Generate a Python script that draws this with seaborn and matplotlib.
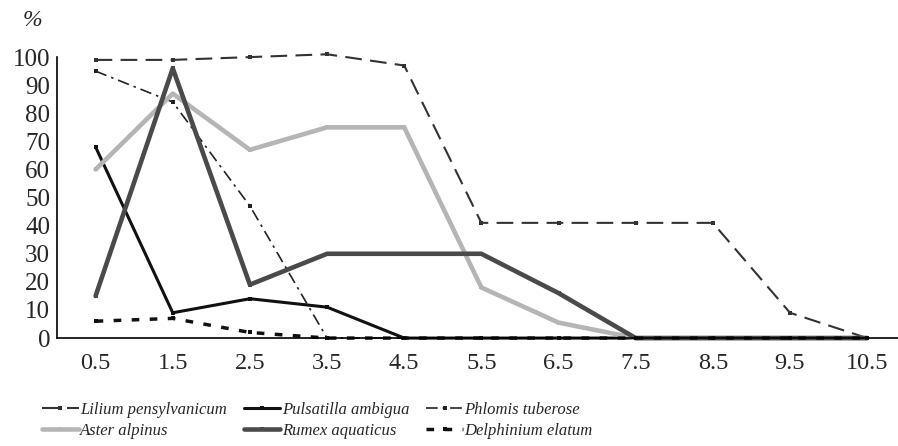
import numpy as np
import pandas as pd
import matplotlib
matplotlib.use("Agg")
import matplotlib.pyplot as plt
import seaborn as sns

# ---------- DATA ----------
x_vals = [0.5, 1.5, 2.5, 3.5, 4.5, 5.5, 6.5, 7.5, 8.5, 9.5, 10.5]
x_labels = ["0.5", "1.5", "2.5", "3.5", "4.5", "5.5", "6.5", "7.5", "8.5", "9.5", "10.5"]

lilium = [99, 99, 100, 101, 97, 41, 41, 41, 41, 9, 0]
pulsatilla = [68, 9, 14, 11, 0, 0, 0, 0, 0, 0, 0]
phlomis = [95, 84, 47, 0, 0, 0, 0, 0, 0, 0, 0]
aster = [60, 87, 67, 75, 75, 18, 5.5, 0, 0, 0, 0]
rumex = [15, 96, 19, 30, 30, 30, 16, 0, 0, 0, 0]
delphinium = [6, 7, 2, 0, 0, 0, 0, 0, 0, 0, 0]

species = ["Lilium pensylvanicum", "Pulsatilla ambigua", "Phlomis tuberose",
           "Aster alpinus", "Rumex aquaticus", "Delphinium elatum"]
values = [lilium, pulsatilla, phlomis, aster, rumex, delphinium]

# ---------- STYLE ----------
sns.set_theme(style="white")
plt.rcParams["font.family"] = ["Liberation Serif", "DejaVu Serif"]

styles = {
    "Lilium pensylvanicum": dict(color="#333333", lw=1.5, dashes=(8, 4)),
    "Pulsatilla ambigua": dict(color="#111111", lw=2.2, dashes=None),
    "Phlomis tuberose": dict(color="#222222", lw=1.2, dashes=(7, 3, 1.5, 3)),
    "Aster alpinus": dict(color="#b5b5b5", lw=3.3, dashes=None),
    "Rumex aquaticus": dict(color="#4a4a4a", lw=3.3, dashes=None),
    "Delphinium elatum": dict(color="#111111", lw=2.5, dashes=(2.2, 3)),
}

df = pd.DataFrame({"x": x_vals})
for name, vals in zip(species, values):
    df[name] = vals

fig = plt.figure(figsize=(8.98, 4.46), dpi=100)
ax = fig.add_axes([0.0635, 0.242, 0.9365, 0.63])

for name in species:
    st = styles[name]
    sns.lineplot(data=df, x="x", y=name, ax=ax, color=st["color"], linewidth=st["lw"],
                 marker="s", markersize=2.5, markeredgewidth=0, label=name, clip_on=False)
    line = ax.lines[-1]
    if st["dashes"] is not None:
        line.set_dashes(st["dashes"])

ax.set_xlim(0, 10.9)
ax.set_ylim(0, 100)
ax.set_xlabel("")
ax.set_ylabel("")

ax.set_xticks(x_vals)
ax.set_xticklabels(x_labels)
ax.set_xticks(np.arange(1, 11), minor=True)
ax.tick_params(axis="x", which="major", length=0, labelsize=17.5, pad=11)
ax.tick_params(axis="x", which="minor", length=6, direction="in", width=1, color="black")
ax.set_yticks(np.arange(0, 101, 10))
ax.tick_params(axis="y", length=5, direction="in", width=1, color="black", labelsize=18, pad=5)

for s in ["top", "right"]:
    ax.spines[s].set_visible(False)
for s in ["left", "bottom"]:
    ax.spines[s].set_color("black")
    ax.spines[s].set_linewidth(1.2)

fig.text(0.025, 0.955, "%", fontsize=17, style="italic", va="center", ha="left")

# legend filled row by row (3 columns, 2 rows)
ax.get_legend().remove()
handles, labels = ax.get_legend_handles_labels()
order = [0, 3, 1, 4, 2, 5]
fig.legend([handles[i] for i in order], [labels[i] for i in order],
           loc="center left", bbox_to_anchor=(0.03, 0.058), ncol=3,
           frameon=False, prop={"style": "italic", "size": 12}, handlelength=2.2,
           handletextpad=0.1, columnspacing=1.0, labelspacing=0.3)

plt.savefig("out.png", dpi=100)
plt.close()
